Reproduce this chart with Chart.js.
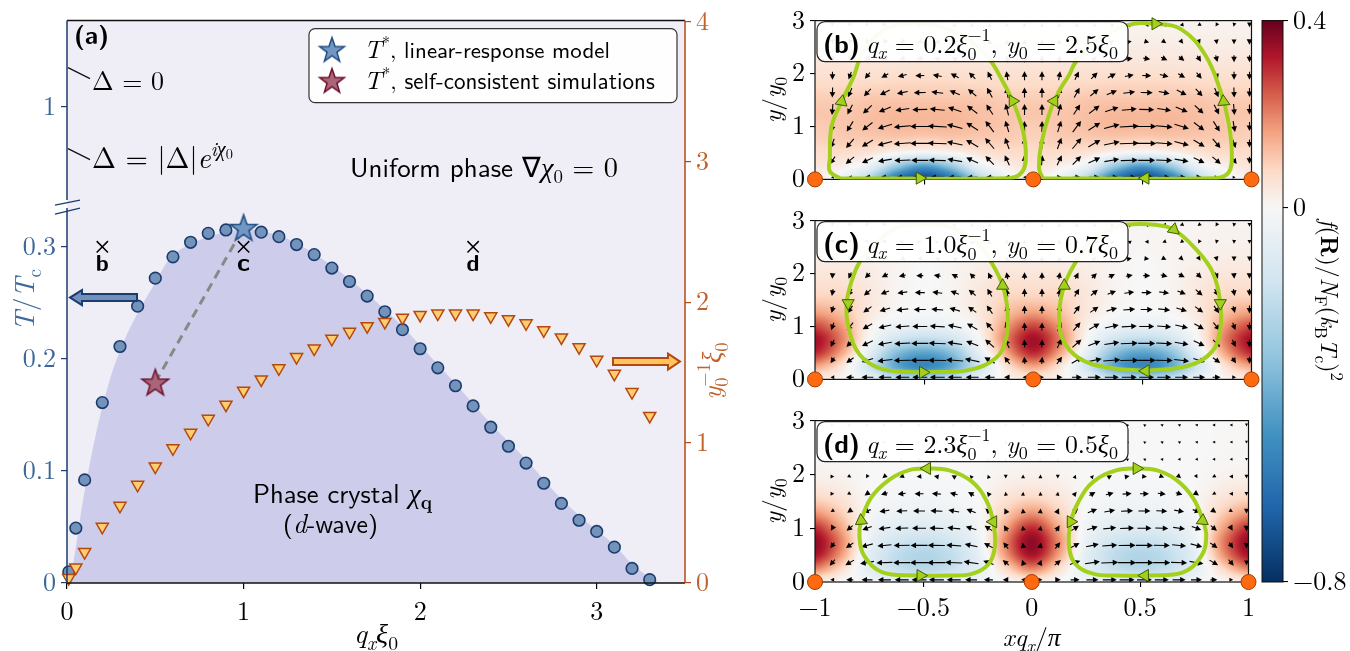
<!DOCTYPE html>
<html><head><meta charset="utf-8">
<script src="https://cdn.jsdelivr.net/npm/chart.js@4.4.1/dist/chart.umd.min.js"></script>
<style>
html,body{margin:0;padding:0;background:#fff;}
#wrap{position:relative;width:1350px;height:651px;overflow:hidden;background:#fff;}
canvas{position:absolute;}
</style></head><body>
<div id="wrap">
<canvas id="ca" width="760" height="651" style="left:0;top:0;width:760px;height:651px"></canvas>
<canvas id="cb" width="520" height="200" style="left:740px;top:0;width:520px;height:200px"></canvas>
<canvas id="cc" width="520" height="200" style="left:740px;top:200px;width:520px;height:200px"></canvas>
<canvas id="cd" width="520" height="251" style="left:740px;top:400px;width:520px;height:251px"></canvas>
<canvas id="cbar" width="100" height="651" style="left:1250px;top:0;width:100px;height:651px"></canvas>
</div>
<script>
// ================= DATA: panel (a) =================
const qCirc=[0.01,0.05,0.1,0.2,0.3,0.4,0.5,0.6,0.7,0.8,0.9,1.0,1.1,1.2,1.3,1.4,1.5,1.6,1.7,1.8,1.9,2.0,2.1,2.2,2.3,2.4,2.5,2.6,2.7,2.8,2.9,3.0,3.1,3.2,3.3];
const tCirc=[0.010,0.049,0.092,0.161,0.211,0.247,0.272,0.291,0.304,0.312,0.315,0.316,0.313,0.309,0.302,0.293,0.281,0.269,0.256,0.242,0.226,0.209,0.192,0.176,0.158,0.139,0.122,0.107,0.089,0.071,0.056,0.046,0.032,0.013,0.003];
const qTri=[0.01,0.05,0.1,0.2,0.3,0.4,0.5,0.6,0.7,0.8,0.9,1.0,1.1,1.2,1.3,1.4,1.5,1.6,1.7,1.8,1.9,2.0,2.1,2.2,2.3,2.4,2.5,2.6,2.7,2.8,2.9,3.0,3.1,3.2,3.3];
const yTri=[0.035,0.11,0.22,0.40,0.55,0.70,0.83,0.96,1.07,1.17,1.27,1.37,1.45,1.53,1.61,1.67,1.74,1.79,1.83,1.86,1.89,1.91,1.92,1.92,1.92,1.90,1.88,1.85,1.80,1.75,1.68,1.59,1.49,1.36,1.19];
const qShade=[0,0.03,0.09,0.16,0.24,0.32,0.40,0.50,0.58,0.75,0.9,1.0,1.1,1.2,1.3,1.4,1.5,1.6,1.7,1.8,1.9,2.0,2.2,2.4,2.6,2.8,3.0,3.1,3.2,3.3,3.36];
const tShade=[0,0.014,0.073,0.13,0.18,0.215,0.241,0.268,0.289,0.306,0.313,0.316,0.314,0.310,0.303,0.294,0.283,0.271,0.258,0.244,0.229,0.212,0.178,0.142,0.110,0.075,0.047,0.034,0.017,0.005,0];
const qStarLin=[1.0], tStarLin=[0.317];
const qStarSim=[0.5], tStarSim=[0.179];
const qDash=[0.5,1.0], tDash=[0.179,0.317];
const qCross=[0.2,1.0,2.3], tCross=[0.3,0.3,0.3], crossNames=['b','c','d'];
const xTicksA=[0,1,2,3];
const tTicks=[0,0.1,0.2,0.3,1], tTickLabels=['0','0.1','0.2','0.3','1'];
const y2Ticks=[0,1,2,3,4];
const tBreak=0.339, tUpperShift=0.575;
function toAxis(t){return t>tBreak? t-tUpperShift : t;}

// ================= DATA: panels (b)-(d) =================
const panelTags=['b','c','d'], panelQ=['0.2','1.0','2.3'], panelY0=['2.5','0.7','0.5'];
const panelXTicks=[-1,-0.5,0,0.5,1], panelXLabels=['\u22121','\u22120.5','0','0.5','1'];
const panelYTicks=[0,1,2,3];
const fpX=[-1,0,1], fpY=[0,0,0];
const cbarTicks=[-0.8,0,0.4], cbarLabels=['\u22120.8','0','0.4'];
// heat maps: columns x=-1..0 step 0.125 (mirror symmetric), rows y=0..3 step 0.25
const heatB=[
[0.02,-0.05,-0.25,-0.6,-0.75,-0.6,-0.25,-0.05,0.02],
[0.05,0.02,-0.06,-0.3,-0.45,-0.3,-0.06,0.02,0.05],
[0.07,0.07,0.05,0.0,-0.03,0.0,0.05,0.07,0.07],
[0.09,0.1,0.1,0.1,0.09,0.1,0.1,0.1,0.09],
[0.1,0.11,0.12,0.13,0.13,0.13,0.12,0.11,0.1],
[0.11,0.11,0.12,0.13,0.13,0.13,0.12,0.11,0.11],
[0.1,0.1,0.11,0.11,0.11,0.11,0.11,0.1,0.1],
[0.08,0.08,0.085,0.09,0.09,0.09,0.085,0.08,0.08],
[0.06,0.06,0.06,0.065,0.065,0.065,0.06,0.06,0.06],
[0.045,0.045,0.045,0.045,0.045,0.045,0.045,0.045,0.045],
[0.03,0.03,0.03,0.03,0.03,0.03,0.03,0.03,0.03],
[0.02,0.02,0.02,0.02,0.02,0.02,0.02,0.02,0.02],
[0.01,0.01,0.01,0.01,0.01,0.01,0.01,0.01,0.01]];
const heatC=[
[0.03,0.01,-0.06,-0.18,-0.22,-0.18,-0.06,0.01,0.03],
[0.16,0.05,-0.16,-0.42,-0.52,-0.42,-0.16,0.05,0.16],
[0.3,0.15,-0.08,-0.34,-0.43,-0.34,-0.08,0.15,0.3],
[0.34,0.2,-0.01,-0.16,-0.21,-0.16,-0.01,0.2,0.34],
[0.27,0.17,0.02,-0.05,-0.07,-0.05,0.02,0.17,0.27],
[0.17,0.12,0.04,0.0,-0.01,0.0,0.04,0.12,0.17],
[0.1,0.09,0.045,0.01,0.0,0.01,0.045,0.09,0.1],
[0.065,0.065,0.04,0.01,0.0,0.01,0.04,0.065,0.065],
[0.045,0.045,0.03,0.01,0.0,0.01,0.03,0.045,0.045],
[0.03,0.03,0.02,0.01,0.0,0.01,0.02,0.03,0.03],
[0.02,0.02,0.015,0.01,0.005,0.01,0.015,0.02,0.02],
[0.015,0.015,0.01,0.01,0.005,0.01,0.01,0.015,0.015],
[0.01,0.01,0.01,0.01,0.005,0.01,0.01,0.01,0.01]];
const heatD=[
[0.03,0.0,-0.03,-0.07,-0.08,-0.07,-0.03,0.0,0.03],
[0.2,0.07,-0.08,-0.18,-0.22,-0.18,-0.08,0.07,0.2],
[0.33,0.16,-0.08,-0.2,-0.24,-0.2,-0.08,0.16,0.33],
[0.36,0.19,-0.05,-0.15,-0.18,-0.15,-0.05,0.19,0.36],
[0.3,0.15,-0.03,-0.09,-0.11,-0.09,-0.03,0.15,0.3],
[0.19,0.1,-0.01,-0.05,-0.06,-0.05,-0.01,0.1,0.19],
[0.1,0.06,0.0,-0.02,-0.03,-0.02,0.0,0.06,0.1],
[0.045,0.03,0.0,-0.01,-0.01,-0.01,0.0,0.03,0.045],
[0.018,0.012,0,0,0,0,0,0.012,0.018],
[0.008,0.005,0,0,0,0,0,0.005,0.008],
[0.005,0.003,0,0,0,0,0,0.003,0.005],
[0.004,0.002,0,0,0,0,0,0.002,0.004],
[0.003,0.002,0,0,0,0,0,0.002,0.003]];
// current-field arrows (left half; right half is the mirror image), angle in degrees, magnitude
const arrowX=[-0.92,-0.84,-0.76,-0.68,-0.60,-0.52,-0.44,-0.36,-0.28,-0.20,-0.12,-0.04];
const arrowY=[0.04,0.36,0.68,1.00,1.32,1.64,1.96,2.28,2.60,2.92];
const angB=[
[180,180,180,180,180,180,180,180,180,180,180,180],
[235,220,205,190,182,180,178,170,155,135,115,95],
[250,230,212,195,184,180,178,168,150,130,110,92],
[260,238,218,198,185,180,177,165,147,127,107,91],
[265,243,223,203,188,181,175,162,143,123,104,90],
[268,247,227,207,191,181,173,158,139,119,101,90],
[270,250,230,210,195,182,170,153,135,116,100,90],
[270,255,237,220,205,190,172,150,130,112,98,90],
[270,262,248,232,215,195,170,145,120,105,95,90],
[285,300,330,350,0,10,30,60,80,90,90,90]];
const magB=[
[3,4,6,9,12,14,14,13,11,8,5,3],
[9,11,12,14,16,17,17,15,13,12,11,10],
[10,12,13,15,17,19,19,16,14,14,12,11],
[11,12,13,15,17,19,19,16,14,14,12,11],
[11,11,12,13,14,15,15,14,13,12,12,11],
[10,10,10,11,11,12,12,11,11,11,11,10],
[8,8,8,8,9,9,9,9,9,9,9,9],
[7,7,7,7,7,7,7,7,7,7,7,7],
[5,5,5,5,5,5,5,5,5,5,5,5],
[4,4,4,4,4,4,4,4,4,4,4,4]];
const edgeAngB=[0,270,270,270,270,270,270,270,270,270], edgeMagB=[3,7,8,9,10,9,8,7,6,5];
const angC=[
[180,180,180,180,180,180,180,180,180,180,180,180],
[235,215,197,186,181,180,179,176,168,150,125,95],
[245,225,205,190,183,180,178,172,158,138,115,93],
[250,230,210,193,184,180,177,168,150,130,110,92],
[255,235,215,197,186,180,175,163,145,125,105,91],
[260,240,220,202,188,180,173,158,140,120,102,90],
[265,245,225,207,192,180,170,153,135,117,100,90],
[270,255,238,222,205,188,170,148,130,112,98,90],
[275,285,300,320,340,0,25,50,70,85,90,90],
[280,300,320,340,0,15,35,55,75,85,90,90]];
const magC=[
[4,8,12,13,14,15,15,14,13,10,6,4],
[7,9,12,15,17,18,18,17,15,12,9,7],
[8,10,12,14,16,17,17,15,13,12,10,8],
[8,10,11,13,14,15,15,14,12,11,10,8],
[7,9,10,11,12,12,12,11,10,10,9,8],
[7,8,9,9,10,10,10,9,9,9,8,8],
[6,7,7,7,7,7,7,7,7,7,7,7],
[5,5,5,5,5,5,5,5,5,5,5,5],
[4,4,4,4,4,4,4,4,4,4,4,4],
[4,4,4,4,4,4,4,4,4,4,4,4]];
const edgeAngC=[0,270,270,270,270,270,270,270,270,270], edgeMagC=[3,7,8,8,8,7,6,5,4,4];
const angD=[
[180,180,180,180,180,180,180,180,180,180,180,180],
[230,210,190,182,180,180,180,178,172,160,140,110],
[235,215,195,185,181,180,179,176,168,152,128,100],
[240,220,200,188,182,180,178,174,163,147,122,100],
[210,215,200,190,183,180,177,170,158,140,115,95],
[0,330,215,198,187,180,175,165,150,130,100,85],
[0,330,240,220,200,185,170,150,130,110,270,90],
[0,0,0,0,10,20,30,50,70,80,90,90],
[0,0,10,20,30,40,50,60,70,80,90,90],
[0,0,10,20,30,40,50,60,70,80,90,90]];
const magD=[
[4,7,11,13,14,15,15,14,12,9,6,4],
[8,10,14,16,17,18,18,17,15,11,8,6],
[7,9,12,14,16,17,17,15,13,10,8,6],
[6,8,10,12,13,14,14,13,11,9,7,5],
[4,6,8,10,11,12,12,11,10,8,6,5],
[4,4,6,7,8,9,9,8,7,5,4,4],
[4,4,4,5,5,5,5,5,4,4,4,4],
[3,3,3,3,3,3,3,3,3,3,3,3],
[3,3,3,3,3,3,3,3,3,3,3,3],
[3,3,3,3,3,3,3,3,3,3,3,3]];
const edgeAngD=[0,270,270,270,270,270,270,270,270,270], edgeMagD=[3,5,6,6,5,4,4,3,3,3];
// closed trajectories (green loops) and direction markers
const loopBLx=[-0.886,-0.11,-0.05,-0.034,-0.049,-0.094,-0.141,-0.2,-0.3,-0.44,-0.56,-0.68,-0.78,-0.825,-0.878,-0.924,-0.932,-0.932,-0.886];
const loopBLy=[0.024,0.024,0.15,0.46,0.95,1.48,1.86,2.26,2.65,2.9,2.94,2.83,2.4,1.92,1.47,1.0,0.405,0.15,0.024];
const loopBRx=[0.043,0.834,0.895,0.91,0.895,0.857,0.788,0.68,0.56,0.438,0.3,0.195,0.164,0.119,0.073,0.035,0.027,0.043];
const loopBRy=[0.024,0.024,0.13,0.46,1.07,1.68,2.35,2.83,2.94,2.92,2.65,2.22,1.97,1.67,1.24,0.63,0.2,0.024];
const mkBx=[-0.52,-0.094,-0.878,0.096,0.872,0.514,0.56], mkBy=[0.024,1.48,1.47,1.48,1.47,0.024,2.94], mkBrot=[90,90,250,270,235,270,90];
const loopCLx=[-0.505,-0.292,-0.17,-0.125,-0.117,-0.14,-0.193,-0.256,-0.348,-0.424,-0.56,-0.644,-0.743,-0.795,-0.832,-0.855,-0.848,-0.795,-0.69,-0.505];
const loopCLy=[0.133,0.18,0.41,0.77,1.25,1.77,2.22,2.58,2.82,2.92,2.92,2.83,2.47,2.22,1.86,1.44,1.012,0.467,0.194,0.133];
const loopCRx=[0.515,0.348,0.21,0.134,0.119,0.142,0.195,0.256,0.348,0.424,0.56,0.644,0.743,0.82,0.857,0.857,0.82,0.713,0.515];
const loopCRy=[0.16,0.22,0.40,0.77,1.25,1.77,2.22,2.58,2.82,2.92,2.92,2.83,2.47,2.04,1.44,0.96,0.53,0.26,0.16];
const mkCx=[-0.505,-0.14,-0.848,0.142,0.857,0.515,0.644], mkCy=[0.133,1.77,1.44,1.77,1.44,0.16,2.83], mkCrot=[90,0,180,0,180,270,10];
const loopDLx=[-0.521,-0.384,-0.277,-0.2,-0.170,-0.178,-0.209,-0.277,-0.384,-0.483,-0.566,-0.658,-0.741,-0.787,-0.795,-0.772,-0.688,-0.521];
const loopDLy=[0.12,0.12,0.15,0.33,0.66,1.12,1.51,1.87,2.08,2.11,2.08,1.90,1.57,1.14,0.84,0.48,0.18,0.12];
const loopDRx=[0.53,0.393,0.286,0.202,0.172,0.18,0.218,0.286,0.393,0.484,0.575,0.667,0.743,0.79,0.805,0.782,0.698,0.53];
const loopDRy=[0.12,0.12,0.15,0.33,0.66,1.12,1.51,1.87,2.08,2.11,2.08,1.9,1.57,1.14,0.84,0.48,0.18,0.12];
const mkDx=[-0.513,-0.483,-0.787,-0.178,0.522,0.484,0.18,0.788], mkDy=[0.12,2.11,1.14,1.12,0.12,2.11,1.12,1.14], mkDrot=[90,270,235,30,270,90,330,125];

// ================= fonts / text helpers =================
const SERIF="'Latin Modern Roman', 'Liberation Serif', serif";
const SANS="'Latin Modern Sans', Lato, sans-serif";
const SANSB="'Latin Modern Sans', 'DejaVu Sans', sans-serif";
const FONTS={
  r:s=>`${s.toFixed(2)}px ${SERIF}`, i:s=>`italic ${s.toFixed(2)}px ${SERIF}`, b:s=>`bold ${s.toFixed(2)}px ${SERIF}`,
  s:s=>`${s.toFixed(2)}px ${SANS}`, sb:s=>`bold ${s.toFixed(2)}px ${SANSB}`
};
function S(t,f='r',sc=1,dy=0,na=false){return {t,f,sc,dy,na};}
const SUB=(t,f='r')=>S(t,f,0.7,0.25), SUP=(t,f='r')=>S(t,f,0.7,-0.42);
function richWidth(ctx,segs,size){let w=0;for(const g of segs){ctx.font=FONTS[g.f](size*g.sc);if(!g.na)w+=ctx.measureText(g.t).width;}return w;}
function fit(ctx,segs,W){return 20*W/richWidth(ctx,segs,20);}
function drawRich(ctx,segs,x,y,size,color,align){
  const w=richWidth(ctx,segs,size);
  let cx=align==='center'?x-w/2:align==='right'?x-w:x;
  ctx.fillStyle=color;ctx.textBaseline='alphabetic';ctx.textAlign='left';
  for(const g of segs){ctx.font=FONTS[g.f](size*g.sc);ctx.fillText(g.t,cx,y+g.dy*size);if(!g.na)cx+=ctx.measureText(g.t).width;}
}
function drawFit(ctx,segs,x,y,W,color,align){drawRich(ctx,segs,x,y,fit(ctx,segs,W),color,align);}
function drawRotFit(ctx,segs,cx,cy,W,color,ang){
  const s=fit(ctx,segs,W);ctx.save();ctx.translate(cx,cy);ctx.rotate(ang);drawRich(ctx,segs,0,s*0.3,s,color,'center');ctx.restore();
}
const xy=(xs,ys)=>xs.map((x,i)=>({x,y:ys[i]}));
function starCanvas(R,fill,stroke){
  const c=document.createElement('canvas');const s=Math.ceil(2*R+4);c.width=s;c.height=s;
  const g=c.getContext('2d');g.translate(s/2,s/2+R*0.08);g.beginPath();
  for(let i=0;i<10;i++){const rr=i%2?R*0.4:R;const a=-Math.PI/2+i*Math.PI/5;g.lineTo(rr*Math.cos(a),rr*Math.sin(a));}
  g.closePath();g.fillStyle=fill;g.fill();g.lineWidth=1.5;g.strokeStyle=stroke;g.lineJoin='miter';g.stroke();return c;
}
function fatArrow(ctx,x0,y,x1,sh,hh,hl,fill,stroke){
  const d=Math.sign(x1-x0),hb=x1-d*hl;ctx.beginPath();
  ctx.moveTo(x0,y-sh/2);ctx.lineTo(hb,y-sh/2);ctx.lineTo(hb,y-hh/2);ctx.lineTo(x1,y);ctx.lineTo(hb,y+hh/2);ctx.lineTo(hb,y+sh/2);ctx.lineTo(x0,y+sh/2);ctx.closePath();
  ctx.fillStyle=fill;ctx.fill();ctx.lineWidth=2;ctx.strokeStyle=stroke;ctx.lineJoin='miter';ctx.stroke();
}
// RdBu_r colormap with two-slope norm (vmin -0.8, vcenter 0, vmax 0.4)
const RDBU=['#053061','#2166ac','#4393c3','#92c5de','#d1e5f0','#f7f7f7','#fddbc7','#f4a582','#d6604d','#b2182b','#67001f'].map(h=>[parseInt(h.slice(1,3),16),parseInt(h.slice(3,5),16),parseInt(h.slice(5,7),16)]);
function cmap(v){
  let t=v<0?0.5+0.5*v/0.8:0.5+0.5*v/0.4;t=Math.max(0,Math.min(1,t));
  const p=t*10,i=Math.min(9,Math.floor(p)),f=p-i,a=RDBU[i],b=RDBU[i+1];
  return [a[0]+(b[0]-a[0])*f,a[1]+(b[1]-a[1])*f,a[2]+(b[2]-a[2])*f];
}
function cr(p0,p1,p2,p3,t){return 0.5*((2*p1)+(-p0+p2)*t+(2*p0-5*p1+4*p2-p3)*t*t+(-p0+3*p1-3*p2+p3)*t*t*t);}
function sampleGrid(grid,gx,gy){
  const R=grid.length,C=grid[0].length;const i0=Math.floor(gy),j0=Math.floor(gx);const ty=gy-i0,tx=gx-j0;
  const rowVal=r=>{const row=grid[Math.min(R-1,Math.max(0,r))];const c=k=>row[Math.min(C-1,Math.max(0,k))];return cr(c(j0-1),c(j0),c(j0+1),c(j0+2),tx);};
  return cr(rowVal(i0-1),rowVal(i0),rowVal(i0+1),rowVal(i0+2),ty);
}
function drawQArrow(ctx,px,py,angDeg,L){
  const a=angDeg*Math.PI/180,ux=Math.cos(a),uy=-Math.sin(a),nx=-uy,ny=ux;
  const x0=px-ux*L/2,y0=py-uy*L/2,x1=px+ux*L/2,y1=py+uy*L/2;
  const hl=Math.min(5.5,L*0.95),hw=hl*0.52;
  if(L>hl+0.5){ctx.beginPath();ctx.moveTo(x0,y0);ctx.lineTo(x1-ux*hl*0.7,y1-uy*hl*0.7);ctx.stroke();}
  ctx.beginPath();ctx.moveTo(x1,y1);ctx.lineTo(x1-ux*hl+nx*hw,y1-uy*hl+ny*hw);ctx.lineTo(x1-ux*hl-nx*hw,y1-uy*hl-ny*hw);ctx.closePath();ctx.fill();
}
const baseOpts=()=>({responsive:false,animation:false,devicePixelRatio:1,events:[],plugins:{legend:{display:false},tooltip:{enabled:false}}});

function build(){
const TF=()=>({family:SERIF,size:26});
const starBlue=starCanvas(14,'#7297c2','#1f4b80'), starRed=starCanvas(14,'#a86678','#6e0f2c');
const legStarBlue=starCanvas(13,'#7297c2','#1f4b80'), legStarRed=starCanvas(13,'#a86678','#6e0f2c');
// ================= panel (a) =================
const NAVY='#1b3c6e', BLUE_T='#3b679c', ORANGE='#b4490f', ORANGE_T='#c0622a';
const pluginA={id:'pa',
  beforeDraw(ch){const{ctx,chartArea:a}=ch;ctx.save();ctx.fillStyle='#efedf5';ctx.fillRect(a.left,a.top,a.right-a.left,a.bottom-a.top);ctx.restore();},
  afterDatasetsDraw(ch){
    const{ctx,chartArea:a}=ch;const X=ch.scales.x,Y=ch.scales.y;ctx.save();
    ctx.lineWidth=1.5;ctx.strokeStyle='#111';ctx.beginPath();ctx.moveTo(a.left,a.top);ctx.lineTo(a.right,a.top);ctx.moveTo(a.left,a.bottom);ctx.lineTo(a.right,a.bottom);ctx.stroke();
    ctx.strokeStyle=ORANGE;ctx.beginPath();ctx.moveTo(a.right,a.top);ctx.lineTo(a.right,a.bottom);ctx.stroke();
    const yb=Y.getPixelForValue(tBreak);
    ctx.strokeStyle=NAVY;ctx.beginPath();ctx.moveTo(a.left,a.top);ctx.lineTo(a.left,yb-3);ctx.moveTo(a.left,yb+5);ctx.lineTo(a.left,a.bottom);ctx.stroke();
    ctx.lineWidth=1.3;ctx.beginPath();ctx.moveTo(a.left-12,yb+2);ctx.lineTo(a.left+13,yb-3);ctx.moveTo(a.left-12,yb+11);ctx.lineTo(a.left+13,yb+5);ctx.stroke();
    ctx.strokeStyle='#111';ctx.lineWidth=1.2;ctx.beginPath();
    ctx.moveTo(a.left+1,a.top+47);ctx.lineTo(a.left+23,a.top+58);
    ctx.moveTo(a.left+1,a.top+128);ctx.lineTo(a.left+23,a.top+139);ctx.stroke();
    drawFit(ctx,[S('(a)','sb')],a.left+7,a.top+23,35,'#000','left');
    drawFit(ctx,[S('\u0394 = 0','r')],a.left+25,a.top+69,72,'#000','left');
    drawFit(ctx,[S('\u0394 = |\u0394|','r'),S('e','i'),SUP('i\u03c7','i'),S('0','r',0.5,-0.3)],a.left+25,a.top+147,141,'#000','left');
    drawFit(ctx,[S('Uniform phase ','s'),S('\u2207','r',1.05),S('\u03c7','i',1.05),SUB('0'),S(' = 0','r',1.05)],a.left+283,a.top+156,268,'#000','left');
    drawFit(ctx,[S('Phase crystal ','s'),S('\u03c7','i',1.05),SUB('q','b')],a.left+186,a.top+482,179,'#000','left');
    drawFit(ctx,[S('(','s'),S('d','i',1.05),S('-wave)','s')],a.left+216,a.top+512,95,'#000','left');
    crossNames.forEach((n,i)=>{drawFit(ctx,[S(n,'sb')],X.getPixelForValue(qCross[i]),Y.getPixelForValue(tCross[i])+24,13,'#000','center');});
    fatArrow(ctx,a.left+70,a.top+277,a.left+3,7,15,12,'#7191bb',NAVY);
    fatArrow(ctx,a.right-72,a.top+341,a.right-5,7,16,12,'#ffc45e',ORANGE);
    ctx.beginPath();ctx.roundRect(a.left+242,a.top+8,368,74,6);ctx.fillStyle='rgba(255,255,255,0.92)';ctx.fill();ctx.lineWidth=1.2;ctx.strokeStyle='#333';ctx.stroke();
    ctx.drawImage(legStarBlue,a.left+265-legStarBlue.width/2,a.top+29-legStarBlue.height/2);
    ctx.drawImage(legStarRed,a.left+265-legStarRed.width/2,a.top+60-legStarRed.height/2);
    drawFit(ctx,[S('T','i',1.1),SUP('*'),S(', ','r'),S('linear-response model','s')],a.left+297,a.top+37,246,'#000','left');
    drawFit(ctx,[S('T','i',1.1),SUP('*'),S(', ','r'),S('self-consistent simulations','s')],a.left+297,a.top+68,291,'#000','left');
    drawRotFit(ctx,[S('T','i'),S('/','r'),S('T','i'),SUB('c')],26,300,62,BLUE_T,-Math.PI/2);
    drawRotFit(ctx,[S('y','i'),S('0','r',0.7,0.25,true),SUP('\u22121'),S('\u03be','i'),SUB('0')],713,371,57,ORANGE_T,-Math.PI/2);
    drawFit(ctx,[S('q','i'),SUB('x','i'),S('\u03be','i'),SUB('0')],(a.left+a.right)/2,643,44,'#000','center');
    ctx.restore();
  }};
new Chart(document.getElementById('ca'),{type:'line',
  data:{datasets:[
    {data:xy(qShade,tShade),yAxisID:'y',fill:'origin',backgroundColor:'#cdcdeb',borderWidth:0,pointRadius:0,cubicInterpolationMode:'monotone',order:20},
    {data:xy(qDash,tDash),yAxisID:'y',borderColor:'#888888',borderWidth:3,borderDash:[9,6],pointRadius:0,fill:false,order:15},
    {data:xy(qCirc,tCirc),yAxisID:'y',showLine:false,pointRadius:5.8,pointBackgroundColor:'#7393bb',pointBorderColor:NAVY,pointBorderWidth:1.6,clip:false,order:12},
    {data:xy(qTri,yTri),yAxisID:'y2',showLine:false,pointStyle:'triangle',pointRotation:180,pointRadius:7,pointBackgroundColor:'#ffcd70',pointBorderColor:ORANGE,pointBorderWidth:1.5,clip:false,order:10},
    {data:xy(qCross,tCross),yAxisID:'y',showLine:false,pointStyle:'crossRot',pointRadius:8,pointBorderColor:'#000',pointBorderWidth:1.5,order:8},
    {data:xy(qStarSim,tStarSim),yAxisID:'y',showLine:false,pointStyle:starRed,pointRadius:8,order:5},
    {data:xy(qStarLin,tStarLin),yAxisID:'y',showLine:false,pointStyle:starBlue,pointRadius:8,order:4}
  ]},
  options:Object.assign(baseOpts(),{
    layout:{padding:{top:16,left:0,right:0,bottom:0}},
    scales:{
      x:{type:'linear',min:0,max:3.5,afterFit(s){s.height=68;},afterBuildTicks(s){s.ticks=xTicksA.map(v=>({value:v}));},
        ticks:{font:TF(),color:'#000',padding:7,maxRotation:0,autoSkip:false},
        grid:{drawOnChartArea:false,tickLength:6,color:'#000',lineWidth:1.2},border:{display:false}},
      y:{type:'linear',position:'left',min:0,max:0.5018,afterFit(s){s.width=67;},afterBuildTicks(s){s.ticks=tTicks.map(v=>({value:toAxis(v)}));},
        ticks:{font:TF(),color:BLUE_T,padding:5,autoSkip:false,callback:(v,i)=>tTickLabels[i]},
        grid:{drawOnChartArea:false,tickLength:6,color:NAVY,lineWidth:1.2},border:{display:false}},
      y2:{type:'linear',position:'right',min:0,max:4.007,afterFit(s){s.width=75;},afterBuildTicks(s){s.ticks=y2Ticks.map(v=>({value:v}));},
        ticks:{font:TF(),color:ORANGE_T,padding:5,autoSkip:false},
        grid:{drawOnChartArea:false,tickLength:6,color:ORANGE,lineWidth:1.2},border:{display:false}}
    }}),
  plugins:[pluginA]});

// ================= panels (b)-(d) =================
const GREEN='#a3d01c';
function mirrorGrid(h){return h.map(r=>r.concat(r.slice(0,-1).reverse()));}
function panelPlugin(P){return {id:'pp'+P.tag,
  beforeDraw(ch){
    const{ctx,chartArea:a}=ch;const X=ch.scales.x,Y=ch.scales.y;
    const w=Math.round(a.right-a.left),h=Math.round(a.bottom-a.top);
    const off=document.createElement('canvas');off.width=w;off.height=h;const g=off.getContext('2d');const img=g.createImageData(w,h);
    const grid=mirrorGrid(P.heat);
    for(let j=0;j<h;j++){const yv=Y.getValueForPixel(a.top+j+0.5);const gy=yv/0.25;
      for(let i=0;i<w;i++){const xv=X.getValueForPixel(a.left+i+0.5);const gx=(xv+1)/0.125;
        const c=cmap(sampleGrid(grid,gx,gy));const k=4*(j*w+i);img.data[k]=c[0];img.data[k+1]=c[1];img.data[k+2]=c[2];img.data[k+3]=255;}}
    g.putImageData(img,0,0);ctx.drawImage(off,a.left,a.top);
  },
  beforeDatasetsDraw(ch){
    const{ctx,chartArea:a}=ch;const X=ch.scales.x,Y=ch.scales.y;ctx.save();
    ctx.beginPath();ctx.rect(a.left,a.top,a.right-a.left,a.bottom-a.top);ctx.clip();
    ctx.strokeStyle='#000';ctx.fillStyle='#000';ctx.lineWidth=1.1;
    arrowY.forEach((yv,r)=>{
      arrowX.forEach((xv,k)=>{const L=P.mag[r][k];
        drawQArrow(ctx,X.getPixelForValue(xv),Y.getPixelForValue(yv),P.ang[r][k],L);
        drawQArrow(ctx,X.getPixelForValue(-xv),Y.getPixelForValue(yv),180-P.ang[r][k],L);});
      drawQArrow(ctx,X.getPixelForValue(1.0)-2,Y.getPixelForValue(yv),P.edgeAng[r],P.edgeMag[r]);
    });
    ctx.restore();ctx.save();ctx.strokeStyle='#111';ctx.lineWidth=1.2;ctx.strokeRect(a.left,a.top,a.right-a.left,a.bottom-a.top);ctx.restore();
  },
  afterDatasetsDraw(ch){
    const{ctx,chartArea:a}=ch;ctx.save();
    ctx.beginPath();ctx.roundRect(a.left+2,a.top+1,311,40,8);ctx.fillStyle='rgba(255,255,255,0.95)';ctx.fill();ctx.lineWidth=1.2;ctx.strokeStyle='#222';ctx.stroke();
    drawFit(ctx,[S('('+P.tag+')','sb')],a.left+8,a.top+32,37,'#000','left');
    drawFit(ctx,[S('q','i'),SUB('x','i'),S(' = '+P.q,'r'),S('\u03be','i'),S('0','r',0.7,0.3,true),S('\u22121','r',0.7,-0.45),S(', ','r'),S('y','i'),SUB('0'),S(' = '+P.y0,'r'),S('\u03be','i'),SUB('0')],a.left+51,a.top+32,252,'#000','left');
    drawRotFit(ctx,[S('y','i'),S('/','r'),S('y','i'),SUB('0')],33,(a.top+a.bottom)/2,46,'#000',-Math.PI/2);
    if(P.showX) drawFit(ctx,[S('xq','i'),SUB('x','i'),S('/','r'),S('\u03c0','i')],(a.left+a.right)/2,246,58,'#000','center');
    ctx.restore();
  }};}
function makePanel(id,P,padTop,xH){
  return new Chart(document.getElementById(id),{type:'line',
    data:{datasets:[
      {data:xy(P.lLx,P.lLy),borderColor:GREEN,borderWidth:4,pointRadius:0,tension:0.4,fill:false,order:6},
      {data:xy(P.lRx,P.lRy),borderColor:GREEN,borderWidth:4,pointRadius:0,tension:0.4,fill:false,order:6},
      {data:xy(P.mkx,P.mky),showLine:false,pointStyle:'triangle',pointRadius:7,pointRotation:P.mkr,pointBackgroundColor:GREEN,pointBorderColor:'#3f5c00',pointBorderWidth:1,clip:false,order:4},
      {data:xy(fpX,fpY),showLine:false,pointRadius:7.5,pointBackgroundColor:'#ff6a10',pointBorderColor:'#a03c00',pointBorderWidth:1,clip:false,order:2}
    ]},
    options:Object.assign(baseOpts(),{
      layout:{padding:{top:padTop,left:0,right:7,bottom:0}},
      scales:{
        x:{type:'linear',min:-1,max:1,afterFit(s){s.height=xH;},afterBuildTicks(s){s.ticks=panelXTicks.map(v=>({value:v}));},
          ticks:{display:P.showX,font:TF(),color:'#000',padding:5,maxRotation:0,autoSkip:false,callback:(v,i)=>panelXLabels[i]},
          grid:{drawOnChartArea:false,tickLength:5,color:'#000',lineWidth:1.1},border:{display:false}},
        y:{type:'linear',min:0,max:3,afterFit(s){s.width=75;},afterBuildTicks(s){s.ticks=panelYTicks.map(v=>({value:v}));},
          ticks:{font:TF(),color:'#000',padding:5,autoSkip:false},
          grid:{drawOnChartArea:false,tickLength:5,color:'#000',lineWidth:1.1},border:{display:false}}
      }}),
    plugins:[panelPlugin(P)]});
}
makePanel('cb',{tag:panelTags[0],q:panelQ[0],y0:panelY0[0],heat:heatB,ang:angB,mag:magB,edgeAng:edgeAngB,edgeMag:edgeMagB,lLx:loopBLx,lLy:loopBLy,lRx:loopBRx,lRy:loopBRy,mkx:mkBx,mky:mkBy,mkr:mkBrot,showX:false},18,17);
makePanel('cc',{tag:panelTags[1],q:panelQ[1],y0:panelY0[1],heat:heatC,ang:angC,mag:magC,edgeAng:edgeAngC,edgeMag:edgeMagC,lLx:loopCLx,lLy:loopCLy,lRx:loopCRx,lRy:loopCRy,mkx:mkCx,mky:mkCy,mkr:mkCrot,showX:false},17,18);
makePanel('cd',{tag:panelTags[2],q:panelQ[2],y0:panelY0[2],heat:heatD,ang:angD,mag:magD,edgeAng:edgeAngD,edgeMag:edgeMagD,lLx:loopDLx,lLy:loopDLy,lRx:loopDRx,lRy:loopDRy,mkx:mkDx,mky:mkDy,mkr:mkDrot,showX:true},16,69);

// ================= colorbar =================
const cbarPlugin={id:'cbar',
  beforeDraw(ch){const{ctx,chartArea:a}=ch;const Y=ch.scales.y;
    for(let py=Math.floor(a.top);py<a.bottom;py++){const c=cmap(Y.getValueForPixel(py+0.5));ctx.fillStyle=`rgb(${c[0]|0},${c[1]|0},${c[2]|0})`;ctx.fillRect(a.left,py,a.right-a.left,1);}
    ctx.strokeStyle='#111';ctx.lineWidth=1;ctx.strokeRect(a.left,a.top,a.right-a.left,a.bottom-a.top);},
  afterDraw(ch){const{ctx}=ch;
    drawRotFit(ctx,[S('f','i'),S('(','r'),S('R','b'),S(')/','r'),S('N','i'),SUB('F'),S('(','r'),S('k','i'),SUB('B'),S('T','i'),SUB('c'),S(')','r'),SUP('2')],78,300,162,'#000',Math.PI/2);}
};
new Chart(document.getElementById('cbar'),{type:'line',data:{datasets:[]},
  options:Object.assign(baseOpts(),{
    layout:{padding:{top:16,left:12,right:0,bottom:69}},
    scales:{x:{type:'linear',display:false,min:0,max:1},
      y:{type:'linear',position:'right',min:-0.8,max:0.4,afterFit(s){s.width=67;},afterBuildTicks(s){s.ticks=cbarTicks.map(v=>({value:v}));},
        ticks:{font:TF(),color:'#000',padding:5,autoSkip:false,callback:(v,i)=>cbarLabels[i]},
        grid:{drawOnChartArea:false,tickLength:5,color:'#000',lineWidth:1.1},border:{display:false}}}}),
  plugins:[cbarPlugin]});
}

(async function(){
  const fams=["'Latin Modern Roman'","'Liberation Serif'","'Latin Modern Sans'","Lato","'DejaVu Sans'"];
  const styles=['','italic ','bold '];
  const loads=[];fams.forEach(f=>styles.forEach(st=>loads.push(`${st}26px ${f}`)));
  const wc=document.createElement('canvas').getContext('2d');
  loads.forEach(f=>{wc.font=f;wc.measureText('Tq0.1\u03c7\u03be\u0394');});
  try{await Promise.allSettled(loads.map(f=>document.fonts.load(f,'Tq0.1\u03c7\u03be\u0394')));}catch(e){}
  try{await document.fonts.ready;}catch(e){}
  await new Promise(r=>setTimeout(r,60));
  build();
})();
</script>
</body></html>
